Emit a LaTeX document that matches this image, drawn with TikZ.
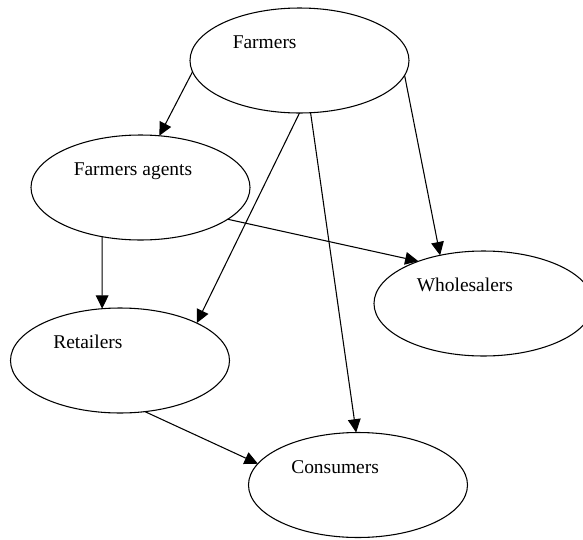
\documentclass[tikz,border=0pt]{standalone}
\usepackage{fontspec}
\setmainfont{Liberation Serif}
\usepackage{tikz}
\usetikzlibrary{shapes.geometric,arrows.meta,calc}

\begin{document}
\begin{tikzpicture}[
  x=0.75pt, y=-0.75pt,
  font=\fontsize{14.6pt}{17pt}\selectfont,
  oval/.style={
    ellipse, draw=black, line width=0.8pt,
    minimum width=164.25pt, minimum height=78.75pt,
    inner sep=0pt, outer sep=0pt},
  lbl/.style={anchor=base west, inner sep=0pt},
  flow/.style={-{Triangle[length=10pt,width=9.5pt]}, line width=0.8pt, draw=black}
]
\useasboundingbox (0,0) rectangle (583,540);

% ---- nodes (pixel grid, y downwards) ----
\node[oval] (farmers)     at (299.5,60.5)  {};
\node[oval] (agents)      at (140.5,187.5) {};
\node[oval] (wholesalers) at (483.5,303.5) {};
\node[oval] (retailers)   at (120,360.5)   {};
\node[oval] (consumers)   at (358,485)     {};

% ---- texts: left part of the upper half ----
\node[lbl] (tFarmers)     at ($(farmers.center)+(-67,-12)$)     {Farmers};
\node[lbl] (tAgents)      at ($(agents.center)+(-67,-12)$)      {Farmers agents};
\node[lbl] (tWholesalers) at ($(wholesalers.center)+(-67,-12)$) {Wholesalers};
\node[lbl] (tRetailers)   at ($(retailers.center)+(-67,-12)$)   {Retailers};
\node[lbl] (tConsumers)   at ($(consumers.center)+(-67,-12)$)   {Consumers};

% ---- edges ----
\draw[flow] (farmers.186)   -- (agents.70.6);
\draw[flow] (farmers.270.5) -- (retailers.26);
\draw[flow] (farmers.282)   -- (consumers.92);
\draw[flow] (farmers.352)   -- (wholesalers.132.5);
\draw[flow] (agents.340)    -- (wholesalers.147.5);
\draw[flow] (agents.232.5)  -- (retailers.109);
\draw[flow] (retailers.296.7) -- (consumers.168.7);

\end{tikzpicture}
\end{document}
